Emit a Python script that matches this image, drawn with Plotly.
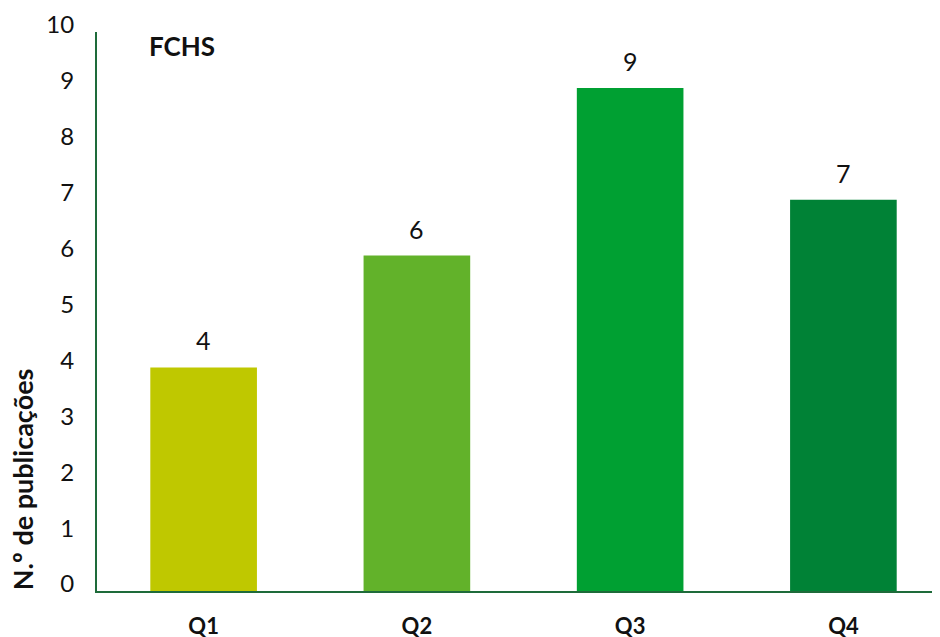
import plotly.graph_objects as go

categories = ["Q1", "Q2", "Q3", "Q4"]
values = [4, 6, 9, 7]
colors = ["#BFC800", "#62B22A", "#00A032", "#008236"]
y_ticks = list(range(0, 11))
title_text = "FCHS"
y_title = "N.º de publicações"

FONT = "Lato, 'Open Sans', sans-serif"
AXIS_COLOR = "#1E6B3A"

fig = go.Figure()
fig.add_trace(go.Bar(
    x=categories, y=values, marker=dict(color=colors, line=dict(width=0)),
    width=0.5, hoverinfo="skip",
))

for c, v in zip(categories, values):
    fig.add_annotation(x=c, y=v, text=str(v), showarrow=False, yanchor="middle",
                       yshift=27, font=dict(family=FONT, size=25, color="#111111"))

fig.add_annotation(xref="paper", yref="paper", x=0.059, y=0.975, text="<b>" + title_text + "</b>",
                   showarrow=False, xanchor="left", yanchor="middle",
                   font=dict(family=FONT, size=26, color="#111111"))

fig.add_annotation(xref="paper", yref="paper", x=0, y=0.2, xshift=-75, text="<b>" + y_title + "</b>",
                   showarrow=False, textangle=-90, xanchor="center", yanchor="middle",
                   font=dict(family=FONT, size=27, color="#111111"))

fig.update_layout(
    width=932, height=629,
    margin=dict(l=89, r=0, t=24, b=46),
    paper_bgcolor="white", plot_bgcolor="white",
    showlegend=False,
    font=dict(family=FONT, color="#111111"),
    xaxis=dict(range=[-0.5, 3.453], showgrid=False, zeroline=False, automargin=False,
               showline=True, linecolor=AXIS_COLOR, linewidth=2,
               ticks="", tickfont=dict(family=FONT, size=22, color="#111111"),
               ticklabelstandoff=15,
               tickvals=categories, ticktext=["<b>" + c + "</b>" for c in categories]),
    yaxis=dict(range=[0, 10], showgrid=False, zeroline=False, automargin=False,
               showline=True, linecolor=AXIS_COLOR, linewidth=2,
               tickvals=y_ticks, ticks="", ticklabelstandoff=16, ticklabelshift=-7,
               tickfont=dict(family=FONT, size=24, color="#111111")),
)

fig.write_html("out.html")
